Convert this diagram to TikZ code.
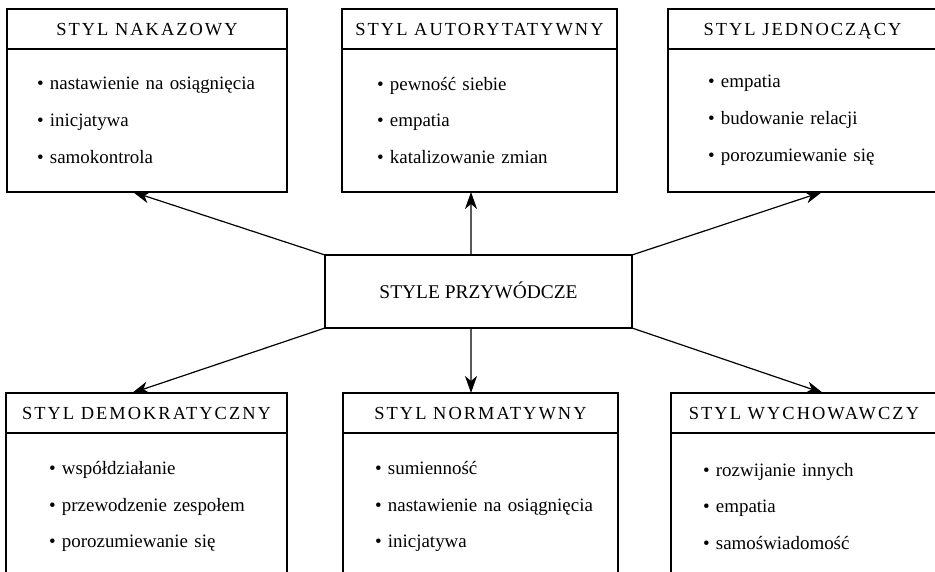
\documentclass[tikz,border=0pt]{standalone}
\usepackage{fontspec}
\setmainfont{Liberation Serif}
\usetikzlibrary{arrows.meta, positioning}
\newcommand{\punkt}[1]{\mbox{• #1}}
\tikzset{
    base/.style = {
        draw=black, line width=1.1bp, outer sep=0pt, inner sep=0pt
    },
    % Boxes
    head/.style = {base, rectangle, minimum height=40bp, text height=12.5bp, text depth=0pt,
        font=\fontsize{18.5}{22}\selectfont\addfontfeature{LetterSpace=11}},
    body/.style = {base, rectangle, align=left, inner xsep=#1, font=\fontsize{19}{37}\selectfont},
    main/.style = {base, rectangle, minimum width=307bp, minimum height=73bp,
        text height=13bp, text depth=0pt, font=\fontsize{19.5}{23}\selectfont},
    % Edges
    arrow/.style = {line width=1.2bp, -{Stealth[length=17bp, width=12bp, inset=5bp]}}
}

\begin{document}
\begin{tikzpicture}[x=1bp, y=-1bp]
    \useasboundingbox (0,0) rectangle (935,572);

    \node (przywodcze) [main] at (478.5,291.5) {STYLE PRZYWÓDCZE};

    % Top row
    \node (nakazowy) [head, minimum width=280bp, anchor=north west] at (7,9) {STYL NAKAZOWY};
    \node (nakazowy-body) [body=30bp, text width=220bp, minimum height=143bp, below=0pt of nakazowy]
        {\punkt{nastawienie na osiągnięcia}\\ \punkt{inicjatywa}\\ \punkt{samokontrola}};

    \node (autorytatywny) [head, minimum width=275bp, anchor=north west] at (342,9) {STYL AUTORYTATYWNY};
    \node (autorytatywny-body) [body=35bp, text width=205bp, minimum height=143bp, below=0pt of autorytatywny]
        {\punkt{pewność siebie}\\ \punkt{empatia}\\ \punkt{katalizowanie zmian}};

    \node (jednoczacy) [head, minimum width=269bp, anchor=north west] at (668,9) {STYL JEDNOCZĄCY};
    \node (jednoczacy-body) [body=40bp, text width=189bp, minimum height=143bp, below=0pt of jednoczacy]
        {\punkt{empatia}\\ \punkt{budowanie relacji}\\ \punkt{porozumiewanie się}};

    % Bottom row
    \node (demokratyczny) [head, minimum width=281bp, anchor=north west] at (6,393) {STYL DEMOKRATYCZNY};
    \node (demokratyczny-body) [body=43bp, text width=195bp, minimum height=147bp, below=0pt of demokratyczny]
        {\punkt{współdziałanie}\\ \punkt{przewodzenie zespołem}\\ \punkt{porozumiewanie się}};

    \node (normatywny) [head, minimum width=275bp, anchor=north west] at (343,393) {STYL NORMATYWNY};
    \node (normatywny-body) [body=32bp, text width=211bp, minimum height=147bp, below=0pt of normatywny]
        {\punkt{sumienność}\\ \punkt{nastawienie na osiągnięcia}\\ \punkt{inicjatywa}};

    \node (wychowawczy) [head, minimum width=266bp, anchor=north west] at (671,393) {STYL WYCHOWAWCZY};
    \node (wychowawczy-body) [body=32bp, text width=202bp, minimum height=147bp, below=0pt of wychowawczy]
        {\punkt{rozwijanie innych}\\ \punkt{empatia}\\ \punkt{samoświadomość}};

    \draw [arrow] (przywodcze.north west) -- ([xshift=-14bp]nakazowy-body.south);
    \draw [arrow] ([xshift=-7.5bp]przywodcze.north) -- ([xshift=-8.5bp]autorytatywny-body.south);
    \draw [arrow] (przywodcze.north east) -- ([xshift=19.5bp]jednoczacy-body.south);
    \draw [arrow] (przywodcze.south west) -- ([xshift=-14.5bp]demokratyczny.north);
    \draw [arrow] ([xshift=-7.5bp]przywodcze.south) -- ([xshift=-9.5bp]normatywny.north);
    \draw [arrow] (przywodcze.south east) -- ([xshift=19bp]wychowawczy.north);
\end{tikzpicture}
\end{document}
